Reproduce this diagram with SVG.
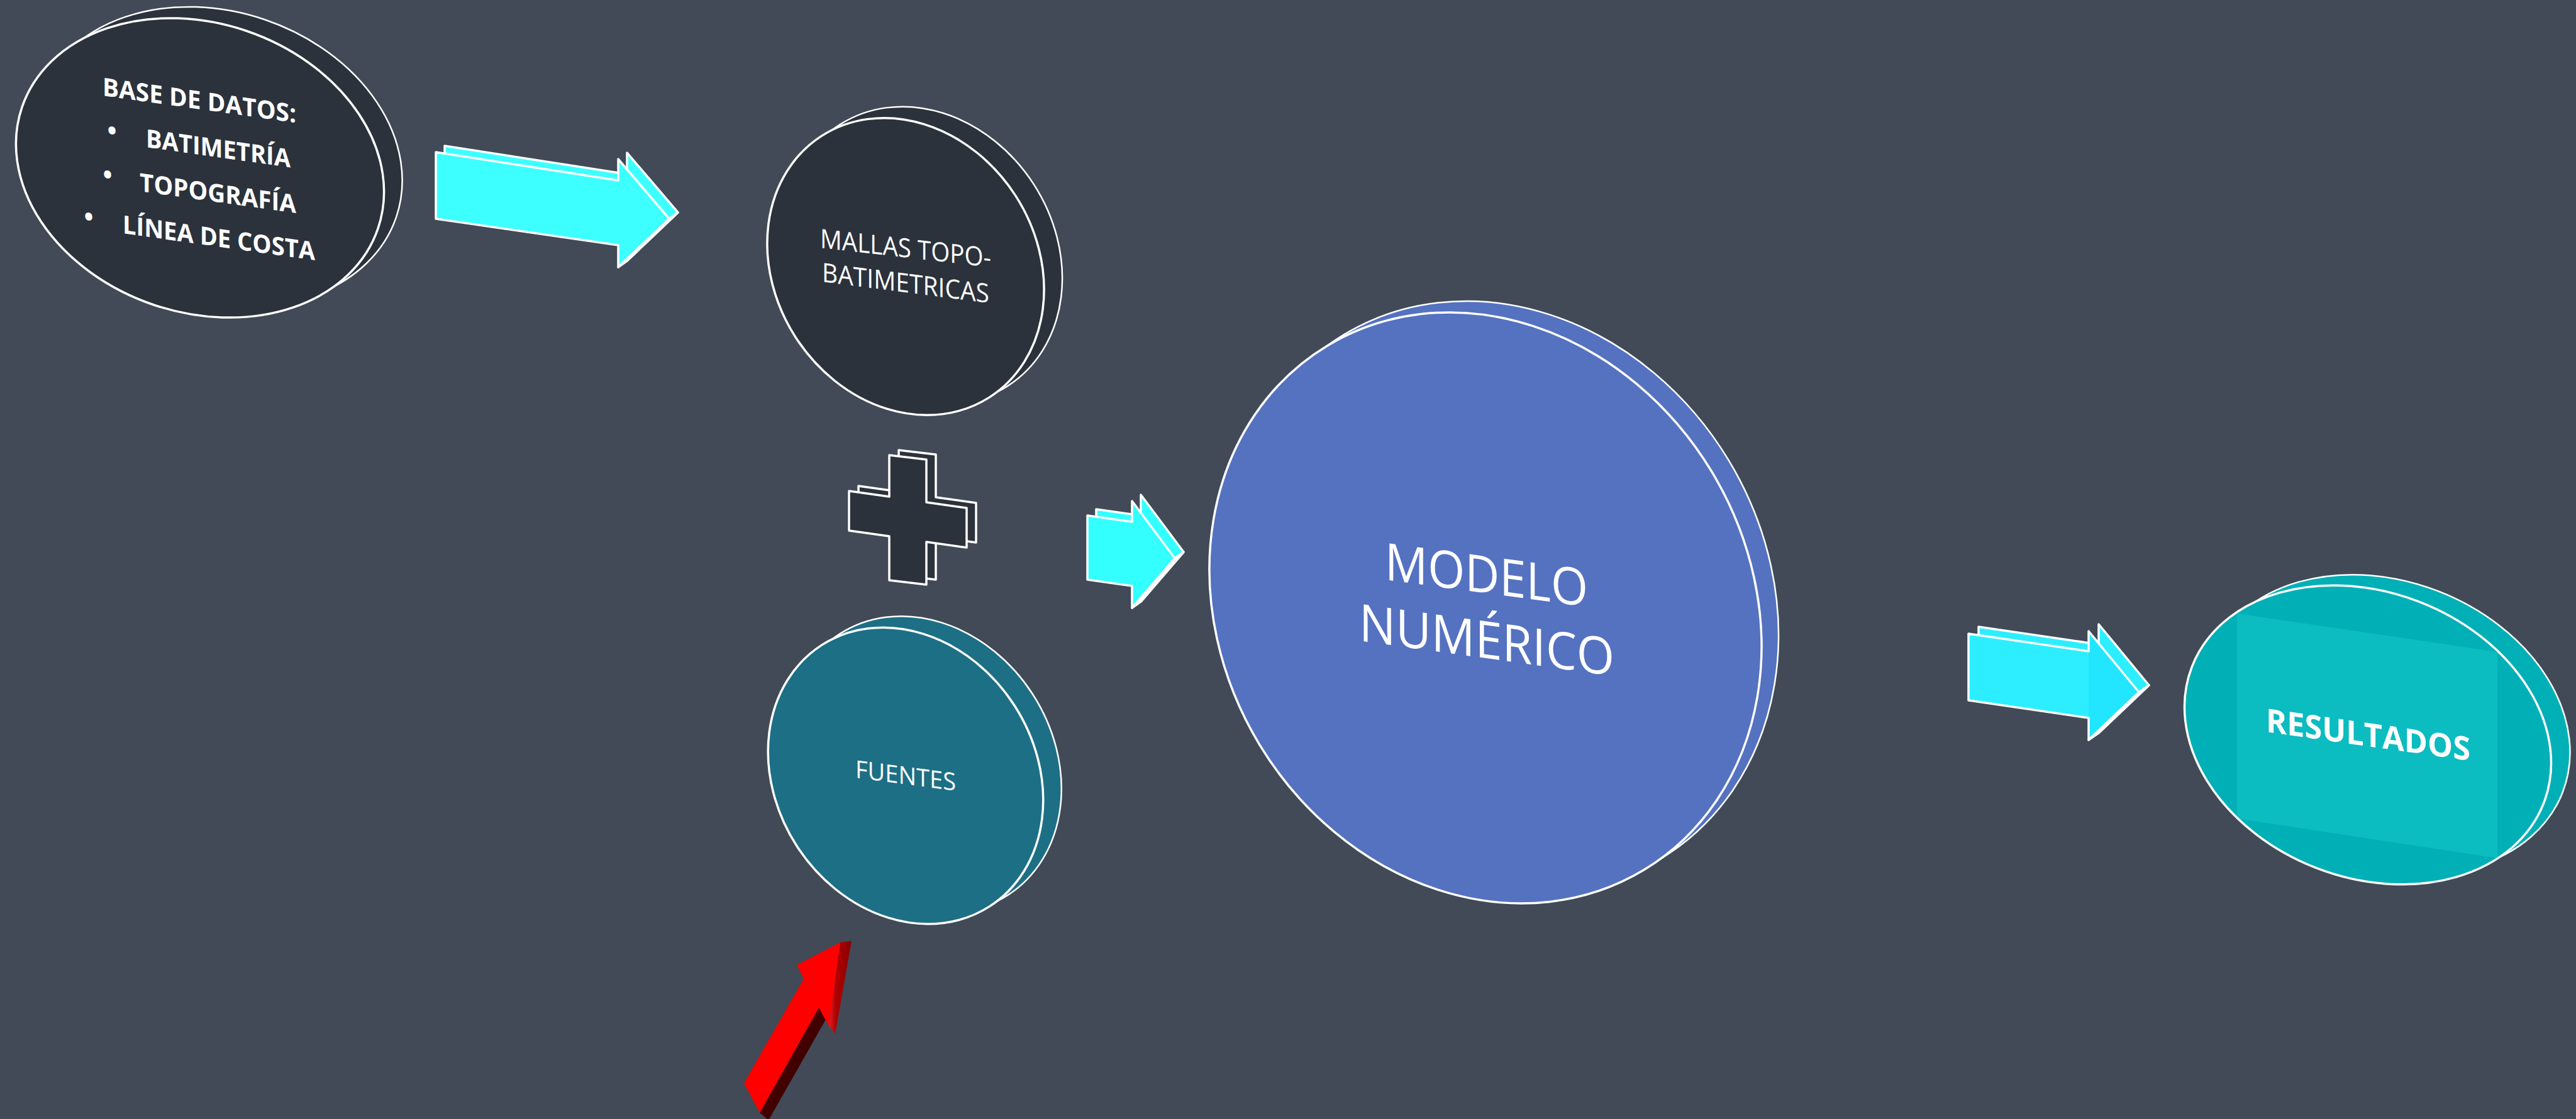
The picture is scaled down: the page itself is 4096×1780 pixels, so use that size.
<svg xmlns="http://www.w3.org/2000/svg" width="4096" height="1780" viewBox="0 0 4096 1780">
<defs>
<style>
.bg{fill:#414A56}
.disc{stroke:#fff;stroke-width:3.5}
.back{stroke:#fff;stroke-width:2.5}
.dark{fill:#2B323B}
.fue{fill:#1D6F85}
.mod{fill:#5572C1}
.res{fill:#00B0B6}
.t{font-family:"Open Sans","Liberation Sans",sans-serif;fill:#fff}
.b{font-weight:700}
.arr{stroke:#fff;stroke-width:3.5;stroke-linejoin:round}
.cy1{fill:#3DFFFF}
.cy2{fill:#33FFFF}
.cy3{fill:#2DEEFF}
.side{fill:#FAFAFA}
</style>
<clipPath id="resClip"><ellipse cx="3765" cy="1169" rx="300" ry="227" transform="rotate(21.2 3765 1169)"/></clipPath>
<linearGradient id="redHead" x1="0" y1="0" x2="1" y2="0">
<stop offset="0" stop-color="#E02020"/><stop offset="0.3" stop-color="#B00000"/><stop offset="1" stop-color="#8A0000"/>
</linearGradient>
<linearGradient id="redShaft" x1="0" y1="0" x2="1" y2="1">
<stop offset="0" stop-color="#5A0000"/><stop offset="1" stop-color="#2A0000"/>
</linearGradient>
</defs>
<rect class="bg" x="0" y="0" width="4096" height="1780"/>

<g id="base-de-datos">
<ellipse class="dark back" cx="347" cy="249" rx="299" ry="230" transform="rotate(18.8 347 249)"/>
<ellipse class="dark disc" cx="318" cy="267" rx="299" ry="230" transform="rotate(18.8 318 267)"/>
<g transform="translate(163 152) skewY(8)"><text class="t b" x="0" y="0" font-size="40" textLength="308" lengthAdjust="spacingAndGlyphs">BASE DE DATOS:</text></g>
<g transform="translate(178 209) skewY(8)"><text class="t b" x="0" y="13" font-size="40" text-anchor="middle">•</text></g>
<g transform="translate(232 234) skewY(8)"><text class="t b" x="0" y="0" font-size="40" textLength="230" lengthAdjust="spacingAndGlyphs">BATIMETRÍA</text></g>
<g transform="translate(171 279) skewY(8)"><text class="t b" x="0" y="13" font-size="40" text-anchor="middle">•</text></g>
<g transform="translate(222 304) skewY(8)"><text class="t b" x="0" y="0" font-size="40" textLength="249" lengthAdjust="spacingAndGlyphs">TOPOGRAFÍA</text></g>
<g transform="translate(141 346) skewY(8)"><text class="t b" x="0" y="13" font-size="40" text-anchor="middle">•</text></g>
<g transform="translate(195 371) skewY(8)"><text class="t b" x="0" y="0" font-size="40" textLength="306" lengthAdjust="spacingAndGlyphs">LÍNEA DE COSTA</text></g>
</g>

<g id="mallas">
<ellipse class="dark back" cx="1469" cy="406" rx="247" ry="208" transform="rotate(57.3 1469 406)"/>
<ellipse class="dark disc" cx="1440" cy="424" rx="247" ry="208" transform="rotate(57.3 1440 424)"/>
<g transform="translate(1304 394) skewY(6.5)"><text class="t" x="0" y="0" font-size="42" textLength="272" lengthAdjust="spacingAndGlyphs">MALLAS TOPO-</text></g>
<g transform="translate(1307 448) skewY(7.3)"><text class="t" x="0" y="0" font-size="42" textLength="266" lengthAdjust="spacingAndGlyphs">BATIMETRICAS</text></g>
</g>

<g id="plus">
<polygon class="dark arr" points="1365,773 1429,782 1429,716 1488,723 1488,791 1552,800 1552,863 1488,854 1488,922 1429,915 1429,845 1365,836"/>
<polygon class="dark arr" points="1350,781 1414,790 1414,724 1473,731 1473,799 1537,808 1537,871 1473,862 1473,930 1414,923 1414,853 1350,844"/>
</g>

<g id="fuentes">
<ellipse class="fue back" cx="1469" cy="1216" rx="247" ry="206" transform="rotate(57.3 1469 1216)"/>
<ellipse class="fue disc" cx="1440" cy="1234" rx="247" ry="206" transform="rotate(57.3 1440 1234)"/>
<g transform="translate(1360 1237) skewY(7.5)"><text class="t" x="0" y="0" font-size="39" textLength="160" lengthAdjust="spacingAndGlyphs">FUENTES</text></g>
</g>

<g id="modelo-numerico">
<ellipse class="mod back" cx="2389" cy="949" rx="487" ry="420" transform="rotate(58.8 2389 949)"/>
<ellipse class="mod disc" cx="2362" cy="967" rx="487" ry="420" transform="rotate(58.8 2362 967)"/>
<g transform="translate(2202 922) skewY(7.6)"><text class="t" x="0" y="0" font-size="82" textLength="323" lengthAdjust="spacingAndGlyphs">MODELO</text></g>
<g transform="translate(2161 1019) skewY(7.9)"><text class="t" x="0" y="0" font-size="82" textLength="406" lengthAdjust="spacingAndGlyphs">NUMÉRICO</text></g>
</g>

<g id="resultados">
<ellipse class="res back" cx="3795" cy="1152" rx="300" ry="227" transform="rotate(21.2 3795 1152)"/>
<ellipse class="res" cx="3765" cy="1169" rx="300" ry="227" transform="rotate(21.2 3765 1169)"/>
<polygon clip-path="url(#resClip)" fill="#0BBCC1" points="3557,976 3971,1037 3971,1365 3557,1302"/>
<ellipse class="disc" fill="none" cx="3765" cy="1169" rx="300" ry="227" transform="rotate(21.2 3765 1169)"/>
<g transform="translate(3603 1164) skewY(8.1)"><text class="t b" x="0" y="0" font-size="52" textLength="325" lengthAdjust="spacingAndGlyphs">RESULTADOS</text></g>
</g>

<g id="connectors">
<g id="arrow-base-mallas">
<polygon class="cy1 arr" points="707,232 997,277 997,243 1078,338 997,415 997,380 707,338"/>
<polygon class="side arr" points="983,425 1064,348 1078,338 997,415"/>
<polygon class="cy1 arr" points="693,242 983,287 983,253 1064,348 983,425 983,390 693,348"/>
</g>
<g id="arrow-plus-modelo">
<polygon class="cy2 arr" points="1743,810 1814,820 1814,787 1882,878 1814,957 1814,922 1743,912"/>
<polygon class="side arr" points="1800,967 1868,888 1882,878 1814,957"/>
<polygon class="cy2 arr" points="1729,820 1800,830 1800,797 1868,888 1800,967 1800,932 1729,922"/>
</g>
<g id="arrow-modelo-resultados">
<polygon class="cy3 arr" points="3146,997 3337,1025 3337,993 3417,1090 3337,1166 3337,1131 3146,1103"/>
<polygon class="side arr" points="3321,1177 3401,1101 3417,1090 3337,1166"/>
<polygon class="cy3" points="3130,1008 3321,1036 3321,1004 3401,1101 3321,1177 3321,1142 3130,1114"/>
<polygon fill="#22E5FF" points="3321,1004 3401,1101 3321,1177"/>
<polygon class="arr" fill="none" points="3130,1008 3321,1036 3321,1004 3401,1101 3321,1177 3321,1142 3130,1114"/>
</g>
<g id="arrow-red">
<polygon fill="url(#redShaft)" points="1302,1603 1314,1620 1222,1782 1208,1770"/>
<polygon fill="url(#redHead)" points="1336,1499 1354,1497 1328,1644 1318,1632"/>
<polygon fill="#FF0000" points="1183,1723 1278,1557 1267,1535 1336,1499 1318,1632 1302,1603 1208,1770"/>
</g>
</g>
</svg>
